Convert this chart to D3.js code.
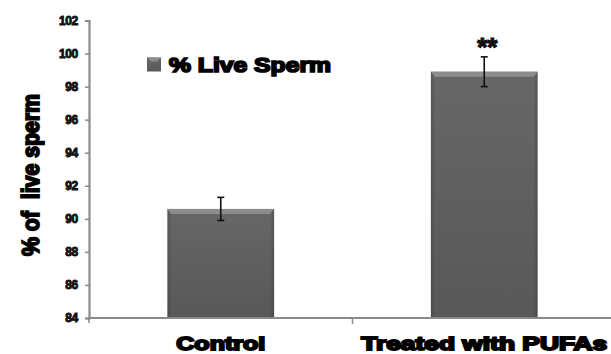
<!DOCTYPE html>
<html><head><meta charset="utf-8">
<script src="https://cdn.jsdelivr.net/npm/d3@7"></script>
<style>body{margin:0;background:#fff}svg{display:block}</style>
</head><body><svg id="c" width="611" height="354"></svg>
<script>
const categories = ["Control", "Treated with PUFAs"];
const values = [90.6, 98.9];
const errors = [0.7, 0.9];
const significance = ["", "**"];
const yTicks = [84, 86, 88, 90, 92, 94, 96, 98, 100, 102];
const seriesName = "% Live Sperm";
const yTitle = "% of  live sperm";

const svg = d3.select("#c");
const font = "'Liberation Sans', Arial, sans-serif";
const x = d3.scaleBand().domain(categories).range([89, 616]).padding(0);
const y = d3.scaleLinear().domain([84, 102]).range([318, 20.5]);
const barW = x.bandwidth() * 0.405;

const defs = svg.append("defs");
const g1 = defs.append("linearGradient").attr("id", "bar").attr("x1", 0).attr("y1", 0).attr("x2", 0).attr("y2", 1);
g1.append("stop").attr("offset", "0%").attr("stop-color", "#676767");
g1.append("stop").attr("offset", "100%").attr("stop-color", "#585858");
const g2 = defs.append("linearGradient").attr("id", "side").attr("x1", 0).attr("y1", 0).attr("x2", 1).attr("y2", 0);
g2.append("stop").attr("offset", "0%").attr("stop-color", "#000").attr("stop-opacity", 0.18);
g2.append("stop").attr("offset", "4%").attr("stop-color", "#000").attr("stop-opacity", 0);
g2.append("stop").attr("offset", "96%").attr("stop-color", "#000").attr("stop-opacity", 0);
g2.append("stop").attr("offset", "100%").attr("stop-color", "#000").attr("stop-opacity", 0.18);

// bars
const bars = svg.append("g").selectAll("g").data(categories).join("g");
bars.append("rect")
  .attr("x", d => x(d) + x.bandwidth() / 2 - barW / 2)
  .attr("y", (d, i) => y(values[i]))
  .attr("width", barW)
  .attr("height", (d, i) => y(84) - y(values[i]))
  .attr("fill", "url(#bar)");
bars.append("rect")
  .attr("x", d => x(d) + x.bandwidth() / 2 - barW / 2)
  .attr("y", (d, i) => y(values[i]))
  .attr("width", barW)
  .attr("height", (d, i) => y(84) - y(values[i]))
  .attr("fill", "url(#side)");
bars.append("path")
  .attr("d", (d, i) => {
    const l = x(d) + x.bandwidth() / 2 - barW / 2, r = l + barW, t = y(values[i]);
    return `M${l},${t}L${r},${t}L${r - 4},${t + 5}L${l + 4},${t + 5}Z`;
  })
  .attr("fill", "#8c8c8c");

// error bars
const eb = svg.append("g").attr("stroke", "#111").attr("stroke-width", 1.6).attr("fill", "none");
categories.forEach((c, i) => {
  const cx = x(c) + x.bandwidth() / 2;
  const t = y(values[i] + errors[i]), b = y(values[i] - errors[i]);
  eb.append("line").attr("x1", cx).attr("x2", cx).attr("y1", t).attr("y2", b);
  eb.append("line").attr("x1", cx - 3.5).attr("x2", cx + 3.5).attr("y1", t).attr("y2", t);
  eb.append("line").attr("x1", cx - 3.5).attr("x2", cx + 3.5).attr("y1", b).attr("y2", b);
  if (significance[i]) {
    svg.append("text").attr("x", cx + 3).attr("y", t - 1)
      .attr("text-anchor", "middle").attr("font-family", font).attr("font-weight", "bold")
      .attr("font-size", 26).attr("fill", "#111").attr("stroke", "#111").attr("stroke-width", 1.2)
      .text(significance[i]);
  }
});

// axes
const yAxis = svg.append("g").attr("transform", "translate(89,0)")
  .call(d3.axisLeft(y).tickValues(yTicks).tickSize(4).tickPadding(7));
yAxis.select(".domain").attr("stroke", "#8a8a8a").attr("stroke-width", 2.2);
yAxis.selectAll(".tick line").attr("stroke", "#8a8a8a").attr("stroke-width", 1.5);
yAxis.selectAll(".tick text").attr("font-family", font).attr("font-weight", "bold")
  .attr("font-size", 12).attr("fill", "#111").attr("stroke", "#111").attr("stroke-width", 0.9)
  .attr("letter-spacing", -0.3);

const xAxisG = svg.append("g").attr("transform", "translate(0,318)");
xAxisG.append("line").attr("x1", 88).attr("x2", 611).attr("y1", 0).attr("y2", 0)
  .attr("stroke", "#8a8a8a").attr("stroke-width", 2.2);
xAxisG.append("line").attr("x1", x(categories[1])).attr("x2", x(categories[1]))
  .attr("y1", 0).attr("y2", 6).attr("stroke", "#8a8a8a").attr("stroke-width", 1.5);
xAxisG.append("line").attr("x1", 89).attr("x2", 89)
  .attr("y1", 0).attr("y2", 5).attr("stroke", "#8a8a8a").attr("stroke-width", 1.5);

const xLabWidths = [89, 246];
svg.append("g").selectAll("text").data(categories).join("text")
  .attr("x", d => x(d) + x.bandwidth() / 2)
  .attr("y", 350)
  .attr("text-anchor", "middle")
  .attr("font-family", font).attr("font-weight", "bold").attr("font-size", 18)
  .attr("fill", "#000").attr("stroke", "#000").attr("stroke-width", 1.8)
  .attr("textLength", (d, i) => xLabWidths[i]).attr("lengthAdjust", "spacingAndGlyphs")
  .text(d => d);

// y title
svg.append("text").attr("transform", "translate(39,175) rotate(-90)")
  .attr("text-anchor", "middle").attr("font-family", font).attr("font-weight", "bold")
  .attr("font-size", 23).attr("fill", "#000").attr("stroke", "#000").attr("stroke-width", 1.8)
  .attr("textLength", 162).attr("lengthAdjust", "spacingAndGlyphs")
  .attr("xml:space", "preserve")
  .text(yTitle);

// legend
const lg = svg.append("g");
lg.append("rect").attr("x", 147).attr("y", 57.5).attr("width", 14).attr("height", 14).attr("fill", "url(#bar)");
lg.append("path").attr("d", "M147,57.5L161,57.5L157,61.5L151,61.5Z").attr("fill", "#8c8c8c");
lg.append("text").attr("x", 169).attr("y", 71.5).attr("font-family", font).attr("font-weight", "bold")
  .attr("font-size", 19.5).attr("fill", "#000").attr("stroke", "#000").attr("stroke-width", 1.7)
  .attr("textLength", 162).attr("lengthAdjust", "spacingAndGlyphs")
  .text(seriesName);
</script></body></html>
